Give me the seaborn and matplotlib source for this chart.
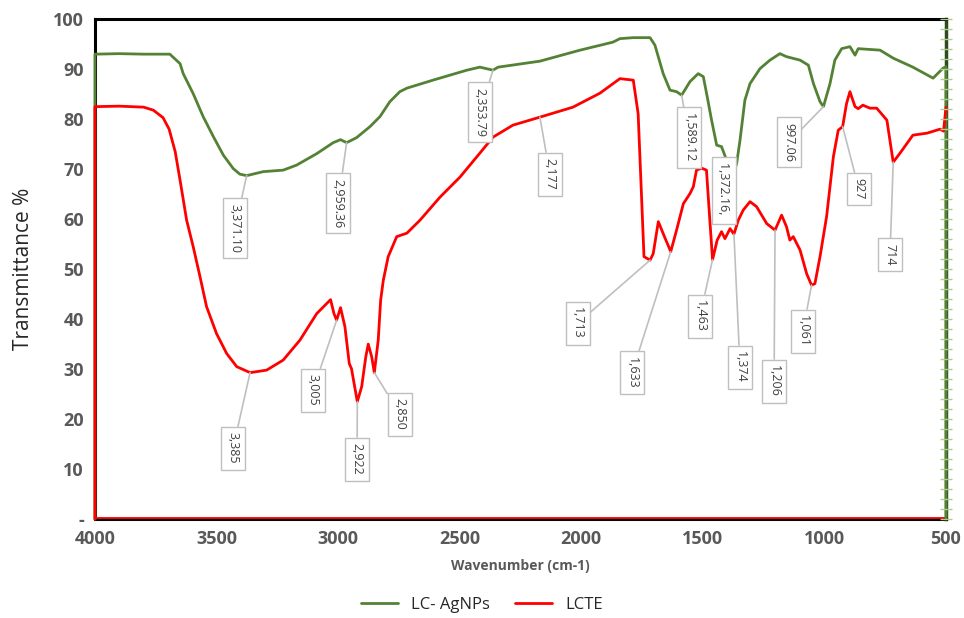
import matplotlib
matplotlib.use("Agg")
import matplotlib.pyplot as plt
import seaborn as sns
import pandas as pd

# ---------------- data ----------------
green_wn = [4000, 4000, 3900, 3800, 3692, 3650, 3637, 3596, 3555, 3513, 3472, 3431, 3404,
            3376, 3308, 3226, 3171, 3088, 3020, 2990, 2965, 2924, 2869, 2828, 2787, 2746,
            2717, 2610, 2470, 2417, 2363, 2342, 2170, 2005, 1870, 1841, 1787, 1717, 1697,
            1663, 1635, 1608, 1587, 1553, 1519, 1498, 1482, 1464, 1443, 1423, 1400, 1375,
            1361, 1347, 1327, 1306, 1265, 1224, 1183, 1156, 1100, 1066, 1045, 1018, 1004,
            977, 957, 929, 895, 874, 861, 771, 717, 636, 553, 512, 500, 500]
green_t = [0, 93.0, 93.1, 93.0, 93.0, 91.1, 89.1, 85.1, 80.5, 76.5, 72.8, 70.1, 69.0,
           68.7, 69.5, 69.8, 70.8, 73.1, 75.3, 75.9, 75.3, 76.3, 78.5, 80.5, 83.5, 85.5,
           86.2, 87.8, 89.8, 90.4, 89.8, 90.4, 91.6, 93.8, 95.4, 96.1, 96.3, 96.3, 94.8,
           89.1, 85.8, 85.5, 84.8, 87.5, 89.1, 88.5, 84.5, 79.8, 74.8, 74.5, 71.5, 69.0,
           71.1, 75.8, 83.8, 87.1, 90.1, 91.8, 93.1, 92.5, 91.8, 90.8, 87.1, 83.5, 82.5,
           87.1, 91.8, 94.1, 94.5, 92.8, 94.1, 93.8, 92.2, 90.4, 88.2, 90.2, 90.5, 0]

red_wn = [4000, 4000, 3900, 3800, 3760, 3720, 3695, 3670, 3650, 3623, 3596, 3568, 3541, 3500,
          3458, 3417, 3362, 3294, 3226, 3157, 3088, 3031, 3017, 3006, 2990, 2972, 2954,
          2945, 2921, 2903, 2886, 2876, 2862, 2851, 2835, 2825, 2814, 2794, 2759, 2717,
          2663, 2581, 2499, 2417, 2363, 2281, 2170, 2034, 1923, 1841, 1786, 1766, 1752,
          1742, 1717, 1704, 1683, 1663, 1632, 1608, 1580, 1553, 1539, 1526, 1505, 1485,
          1473, 1460, 1441, 1423, 1409, 1388, 1372, 1354, 1334, 1306, 1279, 1237, 1203,
          1176, 1156, 1142, 1128, 1100, 1073, 1053, 1039, 1018, 991, 963, 943, 925, 909,
          895, 874, 861, 842, 813, 785, 743, 717, 689, 636, 578, 524, 510, 500]
red_t = [0, 82.5, 82.6, 82.4, 81.8, 80.3, 78.0, 73.5, 67.8, 59.8, 54.5, 48.5, 42.5, 37.1,
         33.1, 30.5, 29.3, 29.8, 31.8, 35.8, 41.1, 43.9, 41.1, 39.8, 42.3, 38.5, 31.1,
         30.1, 23.5, 26.5, 32.5, 35.0, 32.5, 29.3, 35.8, 43.8, 47.8, 52.5, 56.5, 57.2,
         59.8, 64.4, 68.4, 73.2, 76.4, 78.8, 80.4, 82.4, 85.2, 88.1, 87.8, 81.1, 64.5,
         52.5, 51.8, 53.1, 59.5, 57.1, 53.5, 57.8, 63.1, 65.1, 66.5, 69.8, 70.2, 69.8,
         61.1, 51.9, 55.8, 57.5, 56.1, 58.1, 57.0, 59.8, 61.8, 63.5, 62.5, 59.1, 57.8,
         60.8, 58.5, 55.8, 56.5, 53.8, 49.1, 46.8, 47.1, 52.5, 60.5, 72.5, 77.8, 78.5,
         83.1, 85.5, 82.5, 82.1, 82.8, 82.2, 82.2, 79.8, 71.4, 73.2, 76.8, 77.2, 78.0,
         77.6, 82.4]

series_names = ["LC- AgNPs", "LCTE"]
series_colors = ["#548235", "#FF0000"]

# annotations: label, point (wn, T), box center (wn, T)
ann_labels = ["3,371.10", "2,959.36", "2,353.79", "2,177", "1,589.12", "1,372.16, ",
              "997.06", "927", "714", "1,713", "1,633", "1,463", "1,374", "1,206",
              "1,061", "3,385", "3,005", "2,922", "2,850"]
ann_pt_x = [3376, 2965, 2363, 2170, 1587, 1375, 1004, 925, 717, 1717, 1632, 1460, 1372,
            1203, 1053, 3362, 3006, 2921, 2851]
ann_pt_y = [68.7, 75.3, 89.8, 80.4, 84.8, 69.0, 82.5, 78.5, 71.4, 51.8, 53.5, 51.9, 57.0,
            57.8, 46.8, 29.3, 39.8, 23.5, 29.3]
ann_box_x = [3424, 3000, 2417, 2129, 1557, 1413, 1146, 858, 730, 2014, 1791, 1512, 1347,
             1207, 1088, 3432, 3103, 2922, 2746]
ann_box_y = [58.2, 63.2, 81.4, 69.0, 76.3, 65.8, 75.4, 66.0, 52.9, 39.2, 29.3, 40.6, 30.4,
             27.6, 37.6, 14.2, 25.8, 12.0, 21.0]

y_ticks = list(range(0, 101, 10))
y_tick_labels = ["-"] + [str(v) for v in y_ticks[1:]]
x_ticks = [4000, 3500, 3000, 2500, 2000, 1500, 1000, 500]

# ---------------- plot ----------------
sns.set_theme(style="white")
plt.rcParams["font.family"] = ["Open Sans", "DejaVu Sans"]

df = pd.concat([
    pd.DataFrame({"wn": green_wn, "T": green_t, "series": series_names[0]}),
    pd.DataFrame({"wn": red_wn, "T": red_t, "series": series_names[1]}),
])

fig = plt.figure(figsize=(9.64, 6.18), dpi=100)
ax = fig.add_axes([0.0985, 0.160, 0.8828, 0.809])

for s in ["top", "left", "bottom"]:
    ax.spines[s].set_color("black")
    ax.spines[s].set_linewidth(2.2)
ax.spines["right"].set_color("#2F4A1C")
ax.spines["right"].set_linewidth(2.5)
for s in ax.spines.values():
    s.set_zorder(1)

# green first, red on top (red covers the left edge below 82)
for name, col, z in [(series_names[0], series_colors[0], 3), (series_names[1], series_colors[1], 4)]:
    sub = df[df["series"] == name]
    sns.lineplot(data=sub, x="wn", y="T", sort=False, estimator=None, color=col,
                 lw=2.0, ax=ax, label=name, zorder=z, clip_on=False)

# thin red base line along the bottom edge (as in the source chart)
ax.axhline(0.15, color=series_colors[1], lw=1.3, zorder=2, clip_on=False)

ax.set_xlim(4000, 500)
ax.set_ylim(0, 100)
ax.set_xticks(x_ticks)
ax.set_xticklabels([str(v) for v in x_ticks], fontsize=13, fontweight="bold", color="#595959")
ax.set_yticks(y_ticks)
ax.set_yticklabels(y_tick_labels, fontsize=13, fontweight="bold", color="#595959")
ax.tick_params(axis="both", length=0, pad=8)

ax.set_xlabel("Wavenumber (cm-1)", fontsize=10, fontweight="bold", color="#595959", labelpad=8)
ax.set_ylabel("Transmittance %", fontsize=15, color="#262626", labelpad=14)

# right-side small tick marks
axr = ax.twinx()
axr.set_ylim(0, 100)
axr.set_yticks(list(range(0, 101, 2)))
axr.set_yticklabels([])
axr.tick_params(axis="y", length=8, width=1, color="#A9D18E", direction="inout")
for s in axr.spines.values():
    s.set_visible(False)

for lab, px, py, bx, by in zip(ann_labels, ann_pt_x, ann_pt_y, ann_box_x, ann_box_y):
    ax.annotate(lab, xy=(px, py), xytext=(bx, by), textcoords="data",
                rotation=270, ha="center", va="center", fontsize=9, color="#404040",
                bbox=dict(boxstyle="square,pad=0.45", fc="white", ec="#BFBFBF", lw=1),
                arrowprops=dict(arrowstyle="-", color="#BFBFBF", lw=1.2,
                                shrinkA=0, shrinkB=0),
                zorder=6)

handles, labels = ax.get_legend_handles_labels()
order = [labels.index(series_names[0]), labels.index(series_names[1])]
ax.legend([handles[i] for i in order], [labels[i] for i in order],
          loc="center", bbox_to_anchor=(0.5, 0.0215), bbox_transform=fig.transFigure,
          ncol=2, frameon=False, fontsize=12, handlelength=2.2, columnspacing=1.5)

fig.savefig("out.png", dpi=100)
